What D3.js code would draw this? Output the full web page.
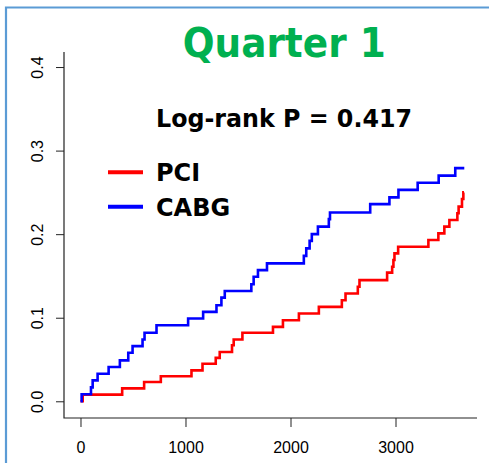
<!DOCTYPE html>
<html>

<head>
    <script type="text/javascript" src="https://cdnjs.cloudflare.com/ajax/libs/d3/7.8.5/d3.min.js"></script>
    <style>
        body {
            margin: 0;
            background: white;
        }

        .tick text {
            font: 16px "Liberation Sans", Arial, sans-serif;
            fill: black;
        }

        .tick line {
            stroke: #222;
        }
    </style>
</head>

<body>
    <script>
        // cumulative event rate (days, rate)
        var pciTimes = [0, 21, 397, 606, 765, 1057, 1162, 1288, 1326, 1443, 1459, 1542, 1833, 1928, 2080, 2270,
            2489, 2524, 2641, 2657, 2920, 2968, 2980, 2990, 3025, 3313, 3408, 3465, 3513, 3589, 3601, 3633, 3646, 3652];
        var pciRisk = [0, 0.008, 0.0155, 0.023, 0.03, 0.037, 0.045, 0.052, 0.059, 0.067, 0.074, 0.082, 0.089, 0.097,
            0.105, 0.113, 0.121, 0.129, 0.137, 0.145, 0.154, 0.161, 0.169, 0.177, 0.185, 0.193, 0.201, 0.209, 0.217,
            0.225, 0.233, 0.242, 0.25, 0.25];

        var cabgTimes = [0, 11, 100, 116, 163, 268, 375, 455, 496, 591, 610, 724, 1025, 1168, 1295, 1342, 1374,
            1627, 1649, 1690, 1776, 2127, 2150, 2182, 2203, 2261, 2365, 2376, 2759, 2942, 3028, 3211, 3411, 3569, 3655];
        var cabgRisk = [0, 0.0084, 0.0167, 0.025, 0.033, 0.041, 0.049, 0.058, 0.066, 0.074, 0.082, 0.091, 0.099,
            0.107, 0.115, 0.124, 0.132, 0.14, 0.149, 0.157, 0.165, 0.174, 0.183, 0.192, 0.2, 0.209, 0.218, 0.226,
            0.236, 0.244, 0.253, 0.2615, 0.27, 0.279, 0.279];

        var xTicks = [0, 1000, 2000, 3000];
        var yTicks = [0, 0.1, 0.2, 0.3, 0.4];

        var width = 489,
            height = 463;

        var x = d3.scaleLinear()
            .domain([-157, 3776])
            .range([64, 477]);

        var y = d3.scaleLinear()
            .domain([-0.02, 0.418])
            .range([418, 52]);

        var svg = d3.select('body')
            .append('svg')
            .attr('width', width)
            .attr('height', height);

        // slide frame
        svg.append('path')
            .attr('d', 'M6,' + height + 'V7.5H' + width)
            .attr('fill', 'none')
            .attr('stroke', '#5b9bd5')
            .attr('stroke-width', 2.2);

        // L-shaped box
        svg.append('path')
            .attr('d', 'M' + x.range()[0] + ',' + y.range()[1] + 'V' + y.range()[0] + 'H' + x.range()[1])
            .attr('fill', 'none')
            .attr('stroke', '#222')
            .attr('stroke-width', 1.2);

        var xAxis = svg.append('g')
            .attr('transform', 'translate(0,' + y.range()[0] + ')')
            .call(d3.axisBottom(x).tickValues(xTicks).tickSize(9).tickPadding(15).tickFormat(d3.format('d')));
        xAxis.select('.domain').remove();

        var yAxis = svg.append('g')
            .attr('transform', 'translate(' + x.range()[0] + ',0)')
            .call(d3.axisLeft(y).tickValues(yTicks).tickSize(8).tickFormat(d3.format('.1f')));
        yAxis.select('.domain').remove();
        yAxis.selectAll('.tick text')
            .attr('x', 0)
            .attr('dy', 0)
            .attr('transform', 'translate(-21.5,0) rotate(-90)')
            .attr('text-anchor', 'middle');

        var line = d3.line()
            .curve(d3.curveStepAfter)
            .x(function(d) { return x(d[0]); })
            .y(function(d) { return y(d[1]); });

        svg.append('path')
            .datum(d3.zip(pciTimes, pciRisk))
            .attr('d', line)
            .attr('fill', 'none')
            .attr('stroke', '#ff0000')
            .attr('stroke-width', 2.6);

        svg.append('path')
            .datum(d3.zip(cabgTimes, cabgRisk))
            .attr('d', line)
            .attr('fill', 'none')
            .attr('stroke', '#0000ff')
            .attr('stroke-width', 2.6);

        svg.append('text')
            .attr('x', 182.7)
            .attr('y', 56.7)
            .attr('textLength', 203)
            .attr('lengthAdjust', 'spacingAndGlyphs')
            .style('font', 'bold 41px "DejaVu Sans", sans-serif')
            .style('fill', '#00b050')
            .text('Quarter 1');

        svg.append('text')
            .attr('x', 156)
            .attr('y', 126.7)
            .attr('textLength', 256)
            .attr('lengthAdjust', 'spacingAndGlyphs')
            .style('font', 'bold 25px "DejaVu Sans", sans-serif')
            .text('Log-rank P = 0.417');

        var legend = [
            { name: 'PCI', color: '#ff0000', y: 172.3 },
            { name: 'CABG', color: '#0000ff', y: 206.7 }
        ];

        var lg = svg.selectAll('g.legend')
            .data(legend)
            .enter()
            .append('g')
            .attr('class', 'legend')
            .attr('transform', function(d) {
                return 'translate(0,' + d.y + ')';
            });

        lg.append('line')
            .attr('x1', 108)
            .attr('x2', 143)
            .attr('stroke', function(d) { return d.color; })
            .attr('stroke-width', 4);

        lg.append('text')
            .attr('x', 156)
            .attr('y', 9)
            .style('font', 'bold 24px "DejaVu Sans", sans-serif')
            .text(function(d) { return d.name; });
    </script>
</body>

</html>
